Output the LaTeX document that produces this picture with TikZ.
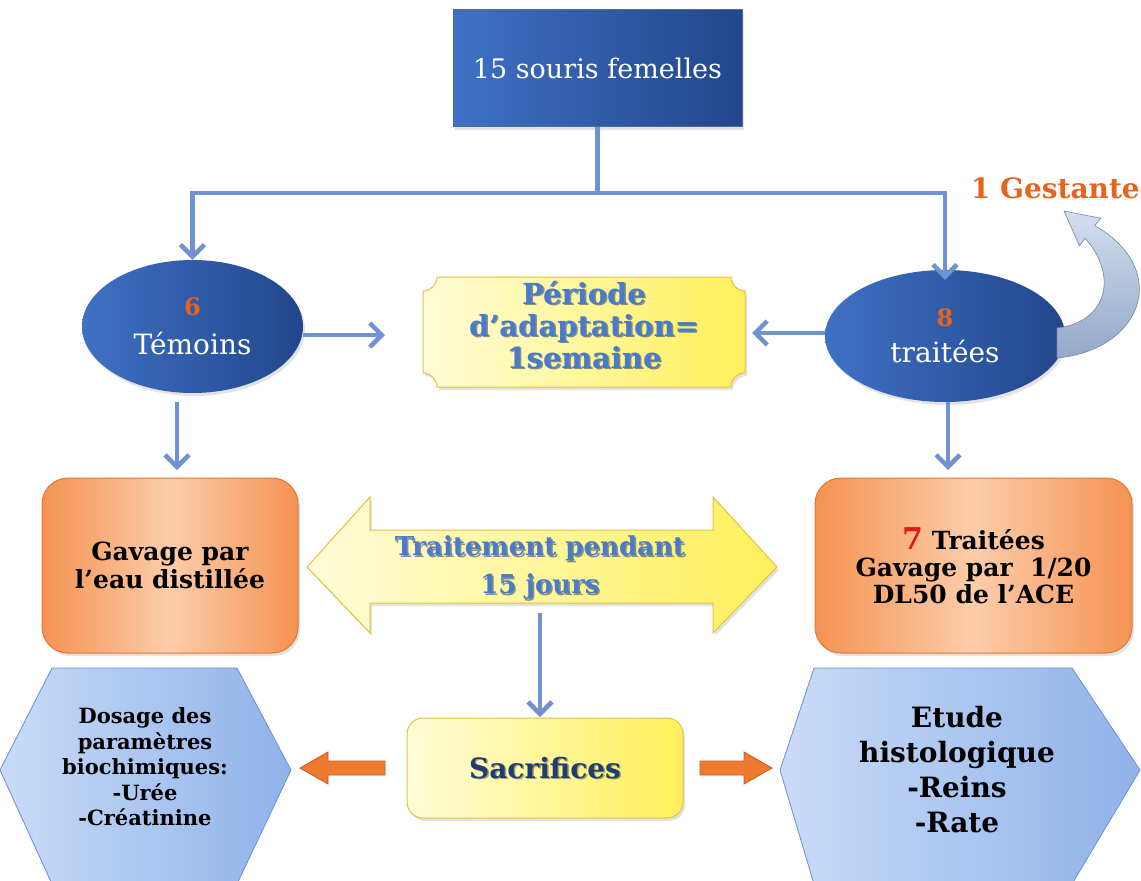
\documentclass[tikz,border=0pt]{standalone}
\usepackage{fontspec}
\setmainfont{DejaVu Serif}
\usetikzlibrary{shapes.geometric,arrows.meta,shadows}
\definecolor{connBlue}{HTML}{7092D1}
\definecolor{boxBlueL}{HTML}{3F71C4}
\definecolor{boxBlueD}{HTML}{21468C}
\definecolor{numOrange}{HTML}{E8641E}
\definecolor{yelL}{HTML}{FFFCD8}
\definecolor{yelD}{HTML}{FFF05A}
\definecolor{yelEdge}{HTML}{E2C244}
\definecolor{orgL}{HTML}{FCCDAA}
\definecolor{orgD}{HTML}{F59252}
\definecolor{orgEdge}{HTML}{E07832}
\definecolor{hexL}{HTML}{C9DBF7}
\definecolor{hexD}{HTML}{8FB2EA}
\definecolor{hexEdge}{HTML}{6C8FCF}
\definecolor{txtBlue}{HTML}{4A7BCB}
\definecolor{navy}{HTML}{1F3C73}
\definecolor{arrOrg}{HTML}{EE7A30}
\definecolor{arrOrgEdge}{HTML}{C55A1C}
\definecolor{curveL}{HTML}{D3DEF0}
\definecolor{curveD}{HTML}{93A8C8}
\definecolor{redSeven}{HTML}{E01818}
\begin{document}
\begin{tikzpicture}[x=1pt,y=-1pt,
  conn/.style={draw=connBlue, line width=4.5pt},
  arr/.style={conn, -{Straight Barb[length=12pt,width=24pt]}},
  softshadow/.style={drop shadow={opacity=0.22, shadow xshift=2pt, shadow yshift=-3pt}},
  topbox/.style={rectangle, minimum width=289pt, minimum height=117pt, inner sep=0pt,
    left color=boxBlueL, right color=boxBlueD, draw=boxBlueD!80, line width=0.6pt,
    text=white, font=\fontsize{27}{32}\selectfont, softshadow},
  ellbox/.style={ellipse, inner sep=0pt, left color=boxBlueL, right color=boxBlueD,
    draw=none, text=white, align=center, font=\fontsize{28}{30}\selectfont, softshadow},
  orgbox/.style={rectangle, rounded corners=26pt, inner sep=0pt, left color=orgD, right color=orgD,
    middle color=orgL, draw=orgEdge, line width=1pt, align=center, text=black,
    font=\bfseries\fontsize{25}{28}\selectfont, softshadow},
  yelbox/.style={rectangle, rounded corners=16pt, inner sep=0pt, left color=yelL, right color=yelD,
    draw=yelEdge, line width=1pt, softshadow},
  yelshape/.style={left color=yelL, right color=yelD, draw=yelEdge, line width=1pt, softshadow},
  hexshape/.style={left color=hexL, right color=hexD, draw=hexEdge, line width=0.8pt},
  orgarrow/.style={fill=arrOrg, draw=arrOrgEdge, line width=0.8pt},
  plain/.style={inner sep=0pt, align=center},
]
\useasboundingbox (0,0) rectangle (1141,881);
\fill[white] (0,0) rectangle (1141,881);

% top box
\node[topbox] (top) at (597.5,68) {15 souris femelles};

% ellipses
\node[ellbox, minimum width=221pt, minimum height=133pt] (tem) at (192.5,326.5)
  {{\bfseries\fontsize{24}{26}\selectfont\color{numOrange}6}\\[9pt]Témoins};
\node[ellbox, minimum width=240pt, minimum height=132pt] (tra) at (945,336)
  {{\bfseries\fontsize{24}{26}\selectfont\color{numOrange}8}\\[6pt]traitées};

% tree connector
\coordinate (j) at (597.5,193);
\draw[conn] (top.south) -- (j);
\draw[arr] (j) -| (tem.north);
\draw[arr] (j) -| ([yshift=-10pt]tra.north);

% plaque (yellow)
\path[yelshape] (437,277) -- (731,277) .. controls (731,284.7) and (737.3,291) .. (745,291)
  -- (745,373) .. controls (737.3,373) and (731,379.3) .. (731,387)
  -- (437,387) .. controls (437,379.3) and (430.7,373) .. (423,373)
  -- (423,291) .. controls (430.7,291) and (437,284.7) .. (437,277) -- cycle;
\node[plain, text=navy, opacity=0.55, font=\bfseries\fontsize{29}{32}\selectfont] (plqS) at (585.5,326.5)
  {Période\\d’adaptation=\\1semaine};
\node[plain, text=txtBlue, font=\bfseries\fontsize{29}{32}\selectfont] (plq) at (584,325)
  {Période\\d’adaptation=\\1semaine};

\draw[arr] (tem.east |- 0,335) -- (385,335);
\draw[arr] (tra.west |- 0,333) -- (752,333);

% 1 Gestante + curved arrow
\node[plain, anchor=east, text=numOrange, font=\bfseries\fontsize{28}{30}\selectfont] (ges) at (1140,188) {1 Gestante};
\path[top color=curveL, bottom color=curveD, draw=curveD!80!black, line width=0.6pt]
  (1057,358) .. controls (1142,350) and (1172,270) .. (1094.8,225.6)
  -- (1100.6,218.2) -- (1064,211) -- (1079.4,245.8) -- (1085.2,238.4)
  .. controls (1118,275) and (1108,322) .. (1057,328) -- cycle;

% orange boxes
\node[orgbox, minimum width=256pt, minimum height=175pt] (gav) at (170,565.5)
  {Gavage par\\l’eau distillée};
\node[orgbox, minimum width=317pt, minimum height=175pt, font=\bfseries\fontsize{25}{27}\selectfont] (trt) at (973.5,565.5)
  {{\color{redSeven}\fontsize{30}{27}\selectfont 7} Traitées\\Gavage par~~1/20\\DL50 de l’ACE};

\draw[arr] (177,402) -- (177,470);
\draw[arr] (948,402) -- (948,470);

% double arrow
\path[yelshape] (307,567) -- (370,497) -- (370,530) -- (713,530) -- (713,497) -- (777,567)
  -- (713,633) -- (713,603) -- (370,603) -- (370,633) -- cycle;
\node[plain, text=navy, opacity=0.55, font=\bfseries\fontsize{26}{38}\selectfont] (dblS) at (541.5,569.5)
  {Traitement pendant\\15 jours};
\node[plain, text=txtBlue, font=\bfseries\fontsize{26}{38}\selectfont] (dbl) at (540,568)
  {Traitement pendant\\15 jours};

% sacrifices
\node[yelbox, minimum width=276pt, minimum height=100pt] (sac) at (545,768) {};
\node[plain, text=black, opacity=0.35, font=\bfseries\fontsize{28}{32}\selectfont] (sacS) at (546.5,769.5) {Sacrifices};
\node[plain, text=navy, font=\bfseries\fontsize{28}{32}\selectfont] (sacT) at (545,768) {Sacrifices};
\draw[arr] (540,613) -- (540,717);

% orange block arrows
\path[orgarrow] (385,761) -- (328,761) -- (328,752) -- (300,768) -- (328,784) -- (328,775) -- (385,775) -- cycle;
\path[orgarrow] (700,761) -- (744,761) -- (744,752) -- (772,768) -- (744,784) -- (744,775) -- (700,775) -- cycle;

% hexagons
\path[hexshape] (52,668) -- (237,668) -- (291,770) -- (237,884) -- (52,884) -- (0,770) -- cycle;
\node[plain, font=\bfseries\fontsize{21}{25.5}\selectfont] (hexL) at (145,767)
  {Dosage des\\paramètres\\biochimiques:\\-Urée\\-Créatinine};
\path[hexshape] (814,668) -- (1072,668) -- (1140,770) -- (1072,884) -- (814,884) -- (780,770) -- cycle;
\node[plain, font=\bfseries\fontsize{28}{35}\selectfont] (hexR) at (957,770)
  {Etude\\histologique\\-Reins\\-Rate};
\end{tikzpicture}
\end{document}
